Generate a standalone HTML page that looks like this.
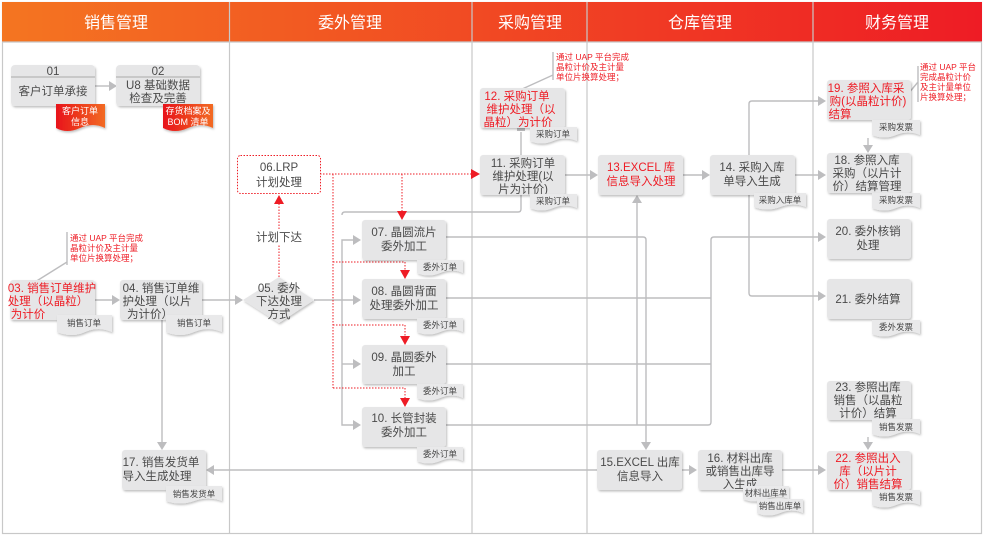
<!DOCTYPE html>
<html><head><meta charset="utf-8"><style>
html,body{margin:0;padding:0;background:#fff;}
svg{display:block;font-family:"Liberation Sans","Noto Sans CJK SC",sans-serif;}
.b{fill:#e6e6e7;filter:url(#sh);}
.t{font-size:11.5px;fill:#4a4a4a;text-anchor:middle;}
.r{fill:#ee1c25;}
.d{fill:#e9e9ea;filter:url(#sh);}
.dt{font-size:8.5px;fill:#444;text-anchor:middle;}
.l{stroke:#bdbdbf;stroke-width:1.4;fill:none;}
.rd{stroke:#ee1c25;stroke-width:1;fill:none;stroke-dasharray:1.5 1.5;}
.a{fill:#bdbdbf;}
.ra{fill:#ee1c25;}
.n{font-size:8.5px;fill:#ee1c25;}
.h{font-size:16px;fill:#fff;text-anchor:middle;}
.w{font-size:9px;fill:#fff;text-anchor:middle;}
</style></head><body>
<svg width="986" height="539" viewBox="0 0 986 539">
<defs>
<filter id="sh" x="-10%" y="-10%" width="130%" height="140%"><feDropShadow dx="1" dy="1.5" stdDeviation="1" flood-color="#000" flood-opacity="0.25"/></filter>
<linearGradient id="hg" x1="0" x2="1"><stop offset="0" stop-color="#f47521"/><stop offset="1" stop-color="#ee1c25"/></linearGradient>
<linearGradient id="rg" x1="0" x2="1"><stop offset="0" stop-color="#e8141c"/><stop offset="1" stop-color="#f26a22"/></linearGradient>
</defs>
<rect x="2.5" y="2.5" width="979" height="531" fill="none" stroke="#c8c8c8" stroke-width="1.2"/>
<rect x="2" y="2" width="980" height="40" fill="url(#hg)"/>
<g stroke="#c8c8c8" stroke-width="1.2">
<line x1="229.5" y1="2" x2="229.5" y2="534"/><line x1="472" y1="2" x2="472" y2="534"/>
<line x1="587" y1="2" x2="587" y2="534"/><line x1="813" y1="2" x2="813" y2="534"/>
<line x1="2" y1="42" x2="982" y2="42"/></g>
<text class="h" x="116" y="28">销售管理</text><text class="h" x="350" y="28">委外管理</text>
<text class="h" x="530" y="28">采购管理</text><text class="h" x="700" y="28">仓库管理</text>
<text class="h" x="897" y="28">财务管理</text>

<g class="l">
<line x1="95" y1="86" x2="110" y2="86"/>
<line x1="95" y1="300" x2="113" y2="300"/>
<line x1="200" y1="300" x2="236" y2="300"/>
<line x1="314" y1="300" x2="354" y2="300"/>
<path d="M354 240 H342 V425 H354"/>
<line x1="342" y1="364" x2="354" y2="364"/>
<path d="M342 215 Q342 212 345 212 H518 Q521 212 521 209 V195"/>
<line x1="521" y1="155" x2="521" y2="132"/>
<line x1="565" y1="175" x2="591" y2="175"/>
<line x1="683" y1="175" x2="703" y2="175"/>
<line x1="795" y1="175" x2="819" y2="175"/>
<path d="M749 155 V104 Q749 101 752 101 H819"/>
<path d="M749 195 V293 Q749 296 752 296 H819"/>
<line x1="868" y1="138" x2="868" y2="147"/>
<path d="M446 237 H643 Q646 237 646 240 V443"/>
<line x1="446" y1="298" x2="711" y2="298"/>
<line x1="446" y1="364" x2="711" y2="364"/>
<path d="M446 425 H708 Q711 425 711 422 V240 Q711 237 714 237 H819"/>
<line x1="637" y1="425" x2="637" y2="202"/>
<line x1="682" y1="470" x2="690" y2="470"/>
<line x1="782" y1="470" x2="819" y2="470"/>
<line x1="868" y1="437" x2="868" y2="444"/>
<line x1="597" y1="470" x2="213" y2="470"/>
<line x1="162" y1="320" x2="162" y2="443"/>
<path d="M67 232 V265 M67 262 L35 282"/>
<path d="M553 52 V80 M553 75 L520 90"/>
<path d="M918 66 V102 M918 82 L903 100"/>
</g>
<g class="a">
<path d="M117 86 l-8 -5 v10z"/><path d="M120 300 l-8 -5 v10z"/><path d="M243 300 l-8 -5 v10z"/>
<path d="M361 300 l-8 -5 v10z"/><path d="M361 240 l-8 -5 v10z"/><path d="M361 364 l-8 -5 v10z"/><path d="M361 425 l-8 -5 v10z"/>
<path d="M598 175 l-8 -5 v10z"/><path d="M710 175 l-8 -5 v10z"/><path d="M826 175 l-8 -5 v10z"/>
<path d="M826 101 l-8 -5 v10z"/><path d="M826 296 l-8 -5 v10z"/><path d="M826 237 l-8 -5 v10z"/>
<path d="M868 153 l-5 -8 h10z"/><path d="M868 450 l-5 -8 h10z"/>
<path d="M646 450 l-5 -8 h10z"/><path d="M637 195 l-5 8 h10z"/>
<path d="M697 470 l-8 -5 v10z"/><path d="M826 470 l-8 -5 v10z"/>
<path d="M206 470 l8 -5 v10z"/><path d="M162 450 l-5 -8 h10z"/>
<rect x="517" y="128" width="8" height="3"/>
</g>
<g class="rd">
<line x1="279" y1="277" x2="279" y2="203"/>
<line x1="320" y1="174" x2="472" y2="174"/>
<line x1="402" y1="174" x2="402" y2="212"/>
<path d="M333 174 V388 M333 262 H405 V271 M333 325 H405 V337 M333 388 H405 V398"/>
</g>
<g class="ra">
<path d="M279 195 l-5 9 h10z"/><path d="M480 174 l-9 -5 v10z"/>
<path d="M402 220 l-5 -9 h10z"/><path d="M405 279 l-5 -9 h10z"/><path d="M405 345 l-5 -9 h10z"/><path d="M405 407 l-5 -9 h10z"/>
</g>
<rect x="237.5" y="155.5" width="83" height="38" rx="3" fill="#fff" stroke="#ee1c25" stroke-dasharray="1.5 1.5"/>
<text class="t" x="279" y="171">06.LRP</text><text class="t" x="279" y="186">计划处理</text>
<rect x="262" y="230" width="36" height="14" fill="#fff"/>
<text class="t" x="279" y="241">计划下达</text>

<path d="M243 300 L279 277 L314 300 L279 323Z" class="b"/>
<text class="t" x="279" y="292">05. 委外</text><text class="t" x="279" y="305">下达处理</text><text class="t" x="279" y="318">方式</text>

<g>
<rect class="b" x="11" y="65" width="84" height="41" rx="4"/><line x1="11" y1="77" x2="95" y2="77" stroke="#aaa"/>
<text class="t" x="53" y="75">01</text><text class="t" x="53" y="95">客户订单承接</text>
<rect class="b" x="116" y="65" width="84" height="41" rx="4"/><line x1="116" y1="77" x2="200" y2="77" stroke="#aaa"/>
<text class="t" x="158" y="75">02</text><text class="t" x="158" y="89">U8 基础数据</text><text class="t" x="158" y="102">检查及完善</text>

<rect class="b" x="10" y="280" width="85" height="40" rx="3"/>
<text class="t r" x="52" y="292">03. 销售订单维护</text><text class="t r" x="48" y="305">处理（以晶粒）</text><text class="t r" x="28" y="318">为计价</text>
<rect class="b" x="120" y="280" width="82" height="40" rx="3"/>
<text class="t" x="161" y="292">04. 销售订单维</text><text class="t" x="157" y="305">护处理（以片</text><text class="t" x="150" y="318">为计价）</text>

<rect class="b" x="362" y="220" width="84" height="40" rx="3"/><text class="t" x="404" y="236">07. 晶圆流片</text><text class="t" x="404" y="250">委外加工</text>
<rect class="b" x="362" y="279" width="84" height="40" rx="3"/><text class="t" x="404" y="295">08. 晶圆背面</text><text class="t" x="404" y="309">处理委外加工</text>
<rect class="b" x="362" y="345" width="84" height="39" rx="3"/><text class="t" x="404" y="361">09. 晶圆委外</text><text class="t" x="404" y="375">加工</text>
<rect class="b" x="362" y="407" width="84" height="40" rx="3"/><text class="t" x="404" y="422">10. 长管封装</text><text class="t" x="404" y="436">委外加工</text>

<rect class="b" x="480" y="88" width="85" height="40" rx="3"/>
<text class="t r" x="517" y="100">12. 采购订单</text><text class="t r" x="521" y="113">维护处理（以</text><text class="t r" x="518" y="126">晶粒）为计价</text>
<rect class="b" x="480" y="155" width="85" height="40" rx="3"/>
<text class="t" x="523" y="167">11. 采购订单</text><text class="t" x="523" y="180">维护处理(以</text><text class="t" x="523" y="193">片为计价)</text>

<rect class="b" x="598" y="155" width="85" height="40" rx="3"/>
<text class="t r" x="641" y="171">13.EXCEL 库</text><text class="t r" x="641" y="185">信息导入处理</text>
<rect class="b" x="710" y="155" width="85" height="40" rx="3"/>
<text class="t" x="752" y="171">14. 采购入库</text><text class="t" x="752" y="185">单导入生成</text>

<rect class="b" x="597" y="450" width="85" height="40" rx="3"/>
<text class="t" x="640" y="466">15.EXCEL 出库</text><text class="t" x="640" y="480">信息导入</text>
<rect class="b" x="698" y="450" width="84" height="40" rx="3"/>
<text class="t" x="740" y="462">16. 材料出库</text><text class="t" x="740" y="475">或销售出库导</text><text class="t" x="740" y="488">入生成</text>

<rect class="b" x="122" y="450" width="84" height="40" rx="3"/>
<text class="t" x="161" y="466">17. 销售发货单</text><text class="t" x="157" y="480">导入生成处理</text>

<rect class="b" x="827" y="80" width="84" height="40" rx="3"/>
<text class="t r" x="866" y="92">19. 参照入库采</text><text class="t r" x="868" y="105">购(以晶粒计价)</text><text class="t r" x="840" y="118">结算</text>
<rect class="b" x="827" y="153" width="84" height="40" rx="3"/>
<text class="t" x="867" y="164">18. 参照入库</text><text class="t" x="867" y="177">采购（以片计</text><text class="t" x="867" y="190">价）结算管理</text>
<rect class="b" x="827" y="219" width="84" height="40" rx="3"/>
<text class="t" x="868" y="235">20. 委外核销</text><text class="t" x="868" y="249">处理</text>
<rect class="b" x="827" y="279" width="84" height="40" rx="3"/>
<text class="t" x="868" y="303">21. 委外结算</text>
<rect class="b" x="827" y="381" width="84" height="39" rx="3"/>
<text class="t" x="868" y="391">23. 参照出库</text><text class="t" x="868" y="404">销售（以晶粒</text><text class="t" x="868" y="417">计价）结算</text>
<rect class="b" x="827" y="451" width="84" height="39" rx="3"/>
<text class="t r" x="868" y="462">22. 参照出入</text><text class="t r" x="868" y="475">库（以片计</text><text class="t r" x="868" y="488">价）销售结算</text>
</g>

<g>
<path class="d" d="M57 315h55v17q-14 -6 -27 0t-28 0z"/><text class="dt" x="84" y="326">销售订单</text>
<path class="d" d="M166 315h56v17q-14 -6 -28 0t-28 0z"/><text class="dt" x="194" y="326">销售订单</text>
<path class="d" d="M417 260h46v13q-11 -5 -23 0t-23 0z"/><text class="dt" x="440" y="270">委外订单</text>
<path class="d" d="M417 318h46v14q-11 -5 -23 0t-23 0z"/><text class="dt" x="440" y="328">委外订单</text>
<path class="d" d="M417 384h46v14q-11 -5 -23 0t-23 0z"/><text class="dt" x="440" y="394">委外订单</text>
<path class="d" d="M417 447h46v14q-11 -5 -23 0t-23 0z"/><text class="dt" x="440" y="457">委外订单</text>
<path class="d" d="M530 127h47v14q-12 -5 -24 0t-23 0z"/><text class="dt" x="553" y="137">采购订单</text>
<path class="d" d="M530 194h47v14q-12 -5 -24 0t-23 0z"/><text class="dt" x="553" y="204">采购订单</text>
<path class="d" d="M754 193h52v14q-13 -5 -26 0t-26 0z"/><text class="dt" x="780" y="203">采购入库单</text>
<path class="d" d="M872 120h48v15q-12 -5 -24 0t-24 0z"/><text class="dt" x="896" y="130">采购发票</text>
<path class="d" d="M872 193h48v15q-12 -5 -24 0t-24 0z"/><text class="dt" x="896" y="203">采购发票</text>
<path class="d" d="M872 320h48v14q-12 -5 -24 0t-24 0z"/><text class="dt" x="896" y="330">委外发票</text>
<path class="d" d="M872 419h48v15q-12 -5 -24 0t-24 0z"/><text class="dt" x="896" y="430">销售发票</text>
<path class="d" d="M872 490h48v15q-12 -5 -24 0t-24 0z"/><text class="dt" x="896" y="500">销售发票</text>
<path class="d" d="M166 486h56v15q-14 -5 -28 0t-28 0z"/><text class="dt" x="194" y="497">销售发货单</text>
<path class="d" d="M743 486h46v13q-11 -5 -23 0t-23 0z"/><text class="dt" x="766" y="496">材料出库单</text>
<path class="d" d="M757 499h46v14q-11 -5 -23 0t-23 0z"/><text class="dt" x="780" y="509">销售出库单</text>
<path d="M56 104h49v24q-12 -6 -25 0t-24 0z" fill="url(#rg)" filter="url(#sh)"/>
<text class="w" x="80" y="114">客户订单</text><text class="w" x="80" y="125">信息</text>
<path d="M163 104h50v24q-12 -6 -25 0t-25 0z" fill="url(#rg)" filter="url(#sh)"/>
<text class="w" x="188" y="114">存货档案及</text><text class="w" x="188" y="125">BOM 清单</text>
</g>

<text class="n" x="70" y="241">通过 UAP 平台完成</text><text class="n" x="70" y="251">晶粒计价及主计量</text><text class="n" x="70" y="261">单位片换算处理；</text>
<text class="n" x="556" y="60">通过 UAP 平台完成</text><text class="n" x="556" y="70">晶粒计价及主计量</text><text class="n" x="556" y="80">单位片换算处理；</text>
<text class="n" x="920" y="70">通过 UAP 平台</text><text class="n" x="920" y="80">完成晶粒计价</text><text class="n" x="920" y="90">及主计量单位</text><text class="n" x="920" y="100">片换算处理；</text>
</svg>
</body></html>
